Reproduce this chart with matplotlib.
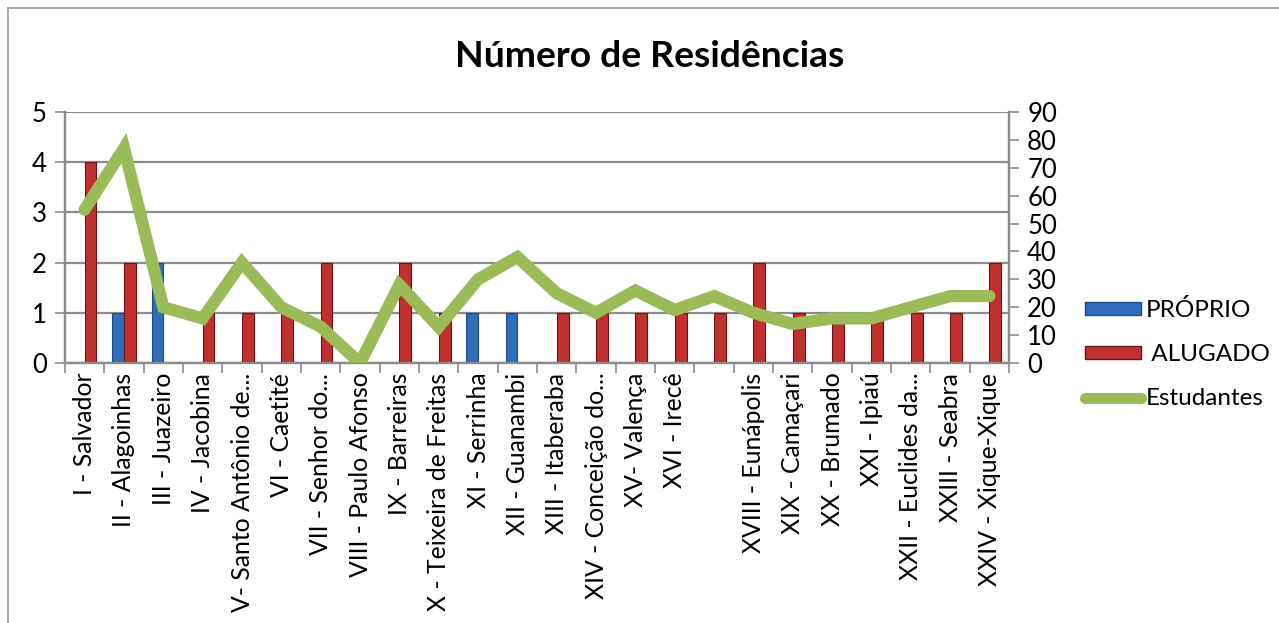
import matplotlib.pyplot as plt
import numpy as np
from matplotlib.lines import Line2D
from matplotlib.patches import Patch

plt.rcParams['font.family'] = ['Lato', 'DejaVu Sans']

categorias = ['I - Salvador', 'II - Alagoinhas', 'III - Juazeiro', 'IV - Jacobina',
              'V- Santo Antônio de...', 'VI - Caetité', 'VII - Senhor do...',
              'VIII - Paulo Afonso', 'IX - Barreiras', 'X - Teixeira de Freitas',
              'XI - Serrinha', 'XII - Guanambi', 'XIII - Itaberaba',
              'XIV - Conceição do...', 'XV- Valença', 'XVI - Irecê', '',
              'XVIII - Eunápolis', 'XIX - Camaçari', 'XX - Brumado', 'XXI - Ipiaú',
              'XXII - Euclides da...', 'XXIII - Seabra', 'XXIV - Xique-Xique']
proprio = [0, 1, 2, 0, 0, 0, 0, 0, 0, 0, 1, 1, 0, 0, 0, 0, 0, 0, 0, 0, 0, 0, 0, 0]
alugado = [4, 2, 0, 1, 1, 1, 2, 0, 2, 1, 0, 0, 1, 1, 1, 1, 1, 2, 1, 1, 1, 1, 1, 2]
estudantes = [55, 77, 20, 16, 36, 20, 13, 0, 28, 13, 30, 38, 25, 18, 26, 19, 24,
              18, 14, 16, 16, 20, 24, 24]

azul = '#2F6DB8'
vermelho = '#C0302E'
verde = '#9BBB59'
cinza = '#8C8C8C'

fig = plt.figure(figsize=(12.79, 6.23), dpi=100)
ax = fig.add_axes([0.0508, 0.4173, 0.7382, 0.4029])
ax2 = ax.twinx()

x = np.arange(len(categorias))
w = 0.3
ax.bar(x - w / 2, proprio, w, color=azul, edgecolor='#1F4A80', linewidth=0.8, zorder=3)
ax.bar(x + w / 2, alugado, w, color=vermelho, edgecolor='#6E1414', linewidth=0.8, zorder=3)
ax2.plot(x, estudantes, color=verde, linewidth=8.8, solid_joinstyle='miter',
         solid_capstyle='round', zorder=4)

ax.set_xlim(-0.5, len(categorias) - 0.5)
ax.set_ylim(0, 5)
ax2.set_ylim(0, 90)
ax.set_yticks(range(0, 6))
ax2.set_yticks(range(0, 91, 10))
ax.yaxis.grid(True, color=cinza, linewidth=1.6, zorder=0)
ax.set_axisbelow(True)

ax.set_xticks(np.arange(-0.5, len(categorias), 1), minor=False)
ax.set_xticklabels([])
ax.set_xticks(x, minor=True)
ax.set_xticklabels(categorias, minor=True, rotation=90, fontsize=17.8)
ax.tick_params(axis='x', which='minor', length=0, pad=7)
ax.tick_params(axis='x', which='major', length=7, color=cinza, width=1.2)
ax.tick_params(axis='y', length=7, color=cinza, width=1.2, labelsize=18.5, pad=6)
ax2.tick_params(axis='y', length=7, color=cinza, width=1.2, labelsize=18.5, pad=6)

for a in (ax, ax2):
    for s in a.spines.values():
        s.set_color(cinza)
        s.set_linewidth(1.6)
    a.spines['top'].set_visible(False)

fig.text(0.508, 0.91, 'Número de Residências', ha='center', va='center',
         fontsize=26.8, fontweight='bold')

handles = [Patch(facecolor=azul, edgecolor='#1F4A80'),
           Patch(facecolor=vermelho, edgecolor='#6E1414'),
           Line2D([0], [0], color=verde, linewidth=8, solid_capstyle='round')]
fig.legend(handles, ['PRÓPRIO', ' ALUGADO', 'Estudantes'], loc='upper left',
           bbox_to_anchor=(0.831, 0.555), frameon=False, fontsize=17.5,
           handlelength=2.3, handleheight=0.5, handletextpad=0.2, labelspacing=0.95)

fig.add_artist(Line2D([8 / 1279, 8 / 1279], [0, 1 - 8 / 623], color='#A0A0A0',
                      linewidth=1.3, transform=fig.transFigure))
fig.add_artist(Line2D([8 / 1279, 1], [1 - 8 / 623, 1 - 8 / 623], color='#A0A0A0',
                      linewidth=1.3, transform=fig.transFigure))

fig.savefig('out.png', dpi=100)
